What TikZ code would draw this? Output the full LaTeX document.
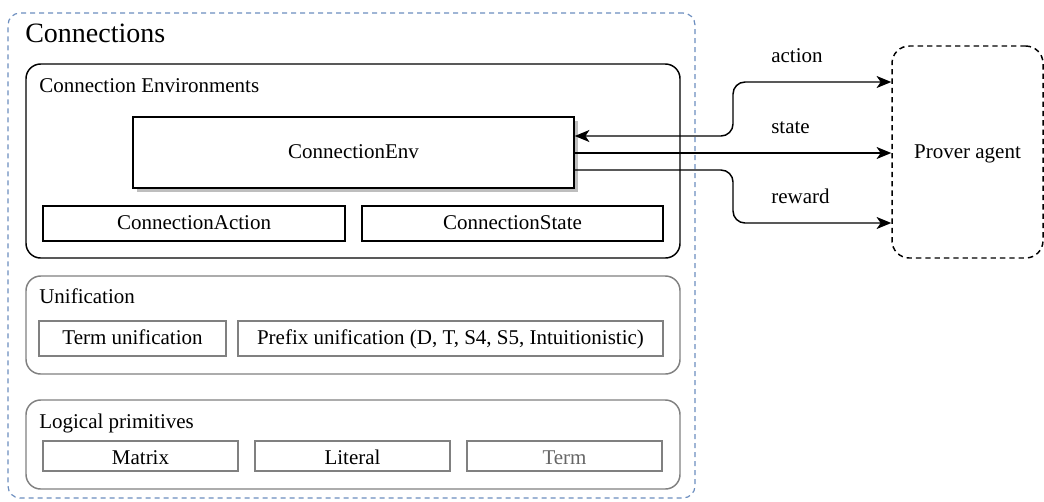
\documentclass[tikz,border=0pt]{standalone}
\usepackage{fontspec}
\setmainfont{Liberation Serif}
\newfontfamily\tnr{Liberation Serif}
\usetikzlibrary{arrows.meta,shadows}
\definecolor{outerblue}{RGB}{108,142,191}
\definecolor{boxgray}{RGB}{128,128,128}
\definecolor{shadowgray}{RGB}{190,190,190}
\definecolor{textgray}{RGB}{102,102,102}
\tikzset{
  sz/.style 2 args={minimum width=#1*0.75pt, minimum height=#2*0.75pt},
  txt/.style={font=\tnr\fontsize{15.75}{18}\selectfont},
  blackbox/.style={txt, draw=black, line width=1.1pt, fill=white, inner sep=0pt, text height=10.5pt, text depth=1.2pt},
  graybox/.style={txt, draw=boxgray, line width=1.1pt, fill=white, inner sep=0pt, text height=10.5pt, text depth=1.2pt},
  lowtext/.style={text height=12pt, text depth=0pt},
  container/.style={line width=1.1pt, inner sep=0pt, rounded corners=11pt},
  lbl/.style={txt, anchor=base west, inner sep=0pt},
  conn/.style={line width=1.1pt, rounded corners=9pt},
  tip/.style={-{Stealth[length=11pt,width=9pt,inset=3pt]}},
  bothtip/.style={{Stealth[length=11pt,width=9pt,inset=3pt]}-{Stealth[length=11pt,width=9pt,inset=3pt]}},
}
\begin{document}
\begin{tikzpicture}[x=0.75pt,y=-0.75pt]
\useasboundingbox (0,0) rectangle (1044,501);
% outer container
\node[draw=outerblue, line width=0.9pt, dash pattern=on 3.75pt off 3pt, rounded corners=9pt, sz={687}{485}, inner sep=0pt] (connections) at (351.5,255.5) {};
\node[anchor=base west, inner sep=0pt, font=\tnr\fontsize{21}{24}\selectfont] (title) at (25,42) {Connections};
% Connection Environments
\node[container, draw=black, sz={654}{194}] (envbox) at (353,161) {};
\node[lbl] (envlabel) at (39,92) {Connection Environments};
\node[blackbox, sz={441}{71}, drop shadow={shadow xshift=3.2pt, shadow yshift=-3.2pt, fill=shadowgray, opacity=1}] (envnode) at (353.5,152.5) {ConnectionEnv};
\node[blackbox, sz={302}{35}] (caction) at (194,223.5) {ConnectionAction};
\node[blackbox, sz={301}{35}] (cstate) at (512.5,223.5) {ConnectionState};
% Unification
\node[container, draw=boxgray, sz={654}{98}] (unifbox) at (353,325) {};
\node[lbl] (uniflabel) at (39,303) {Unification};
\node[graybox, sz={187}{35}] (termunif) at (132.5,338.5) {Term unification};
\node[graybox, sz={425}{35}] (prefunif) at (450.5,338.5) {Prefix unification (D, T, S4, S5, Intuitionistic)};
% Logical primitives
\node[container, draw=boxgray, sz={654}{89}] (logicbox) at (353,444.5) {};
\node[lbl] (logiclabel) at (39,428) {Logical primitives};
\node[graybox, lowtext, sz={195}{30}] (matrix) at (140.5,456) {Matrix};
\node[graybox, lowtext, sz={195}{30}] (literal) at (352.5,456) {Literal};
\node[graybox, lowtext, sz={195}{30}, text=textgray] (term) at (564.5,456) {Term};
% Prover agent
\node[txt, draw=black, line width=1.1pt, dash pattern=on 4pt off 3pt, rounded corners=13pt, sz={151}{212}, inner sep=0pt, text height=10.5pt, text depth=1.2pt] (agent) at (967.5,152) {Prover agent};
% connectors
\coordinate (bendx) at (733,0);
\draw[conn, bothtip] (envnode.east |- 0,136) -- (bendx |- 0,136) |- (agent.west |- 0,82);
\draw[conn, tip] (envnode.east |- 0,153) -- (agent.west |- 0,153);
\draw[conn, tip] (envnode.east |- 0,170) -- (bendx |- 0,170) |- (agent.west |- 0,223);
% edge labels
\node[lbl] (lact) at (771,62) {action};
\node[lbl] (lstate) at (771,133) {state};
\node[lbl] (lreward) at (771,203) {reward};
\end{tikzpicture}
\end{document}
